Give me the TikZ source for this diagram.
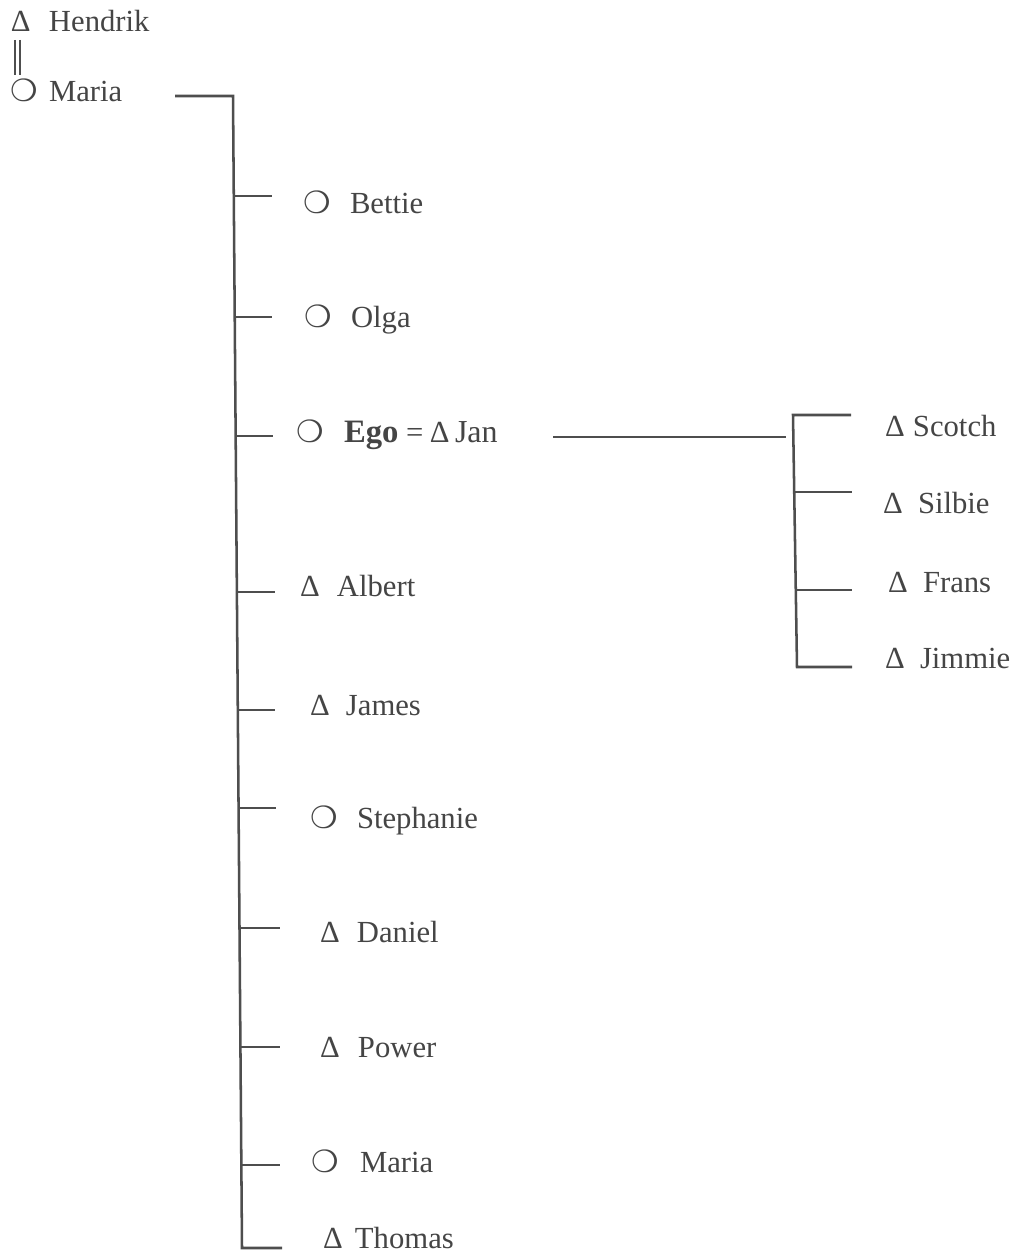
\documentclass[tikz,border=0pt]{standalone}
\usepackage{fontspec}
\setmainfont{Liberation Serif}
\newfontfamily\dejavu{DejaVu Sans}
\definecolor{ink}{HTML}{454545}
\definecolor{linec}{HTML}{4E4E4E}
\newdimen\px \px=0.75pt
\newcommand\fcirc{{\dejavu\fontsize{23}{23}\selectfont ❍}}
\newcommand\ftri{Δ}
\newcommand\person[3]{\makebox[#1\px][l]{#2}#3}
\begin{document}
\begin{tikzpicture}[x=0.75pt,y=-0.75pt,
  lbl/.style={anchor=base west, inner sep=0pt, outer sep=0pt, text=ink,
              font=\fontsize{23}{27}\selectfont},
  ln/.style={draw=linec, line width=1.9pt, line cap=butt, line join=miter}]
\useasboundingbox[fill=white] (0,0) rectangle (1016,1256);

% people
\node[lbl] (hendrik) at (11,32)   {\person{38}{\ftri}{Hendrik}};
\node[lbl] (maria0)  at (11,102)  {\person{38}{\fcirc}{Maria}};
\node[lbl] (bettie)  at (303,213) {\person{47}{\fcirc}{Bettie}};
\node[lbl] (olga)    at (304,327) {\person{47}{\fcirc}{Olga}};
\node[lbl] (ego)     at (296,442) {\person{48}{\fcirc}{\makebox[62\px][l]{\fontsize{24.5}{27}\selectfont\textbf{Ego}}\makebox[24\px][l]{=}\makebox[25\px][l]{\ftri}{\fontsize{24}{27}\selectfont Jan}}};
\node[lbl] (albert)  at (300,596) {\person{37}{\ftri}{Albert}};
\node[lbl] (james)   at (310,715) {\person{36}{\ftri}{James}};
\node[lbl] (steph)   at (310,828) {\person{47}{\fcirc}{Stephanie}};
\node[lbl] (daniel)  at (320,942) {\person{37}{\ftri}{Daniel}};
\node[lbl] (power)   at (320,1057){\person{38}{\ftri}{Power}};
\node[lbl] (maria1)  at (311,1172){\person{49}{\fcirc}{Maria}};
\node[lbl] (thomas)  at (323,1248){\person{32}{\ftri}{Thomas}};
\node[lbl] (scotch)  at (885,436) {\person{28}{\ftri}{Scotch}};
\node[lbl] (silbie)  at (883,513) {\person{35}{\ftri}{Silbie}};
\node[lbl] (frans)   at (888,592) {\person{35}{\ftri}{Frans}};
\node[lbl] (jimmie)  at (885,668) {\person{35}{\ftri}{Jimmie}};

% marriage sign Hendrik = Maria
\coordinate (mA) at (15,40);  \coordinate (mB) at (15,75);
\coordinate (mC) at (20,40);  \coordinate (mD) at (20,75);
\draw[draw=linec, line width=1.1pt] (mA) -- (mB) (mC) -- (mD);

% main sibling line
\coordinate (top0) at (175,96);
\coordinate (st)   at (233,96);
\coordinate (sb)   at (242,1248);
\coordinate (tThomas) at (282,1248);
\draw[ln] (top0) -- (st) -- (sb) -- (tThomas);

\foreach \nm/\sx/\y/\ex in {Bettie/233.8/196/272, Olga/234.7/317/272, Ego/235.7/436/273,
  Albert/236.9/592/275, James/237.8/710/275, Steph/238.6/808/276, Daniel/239.5/928/280,
  Power/240.4/1047/280, Maria/241.4/1165/280}{
  \coordinate (s\nm) at (\sx,\y);
  \coordinate (t\nm) at (\ex,\y);
  \draw[ln] (s\nm) -- (t\nm);
}

% Ego's children
\coordinate (eg1) at (553,437);
\coordinate (eg2) at (786,437);
\draw[ln] (eg1) -- (eg2);
\coordinate (b1) at (851,415);
\coordinate (b2) at (793,415);
\coordinate (b3) at (797,667);
\coordinate (b4) at (852,667);
\draw[ln] (b1) -- (b2) -- (b3) -- (b4);
\coordinate (sSil) at (795,492); \coordinate (tSil) at (852,492);
\coordinate (sFra) at (796,590); \coordinate (tFra) at (852,590);
\draw[ln] (sSil) -- (tSil);
\draw[ln] (sFra) -- (tFra);
\end{tikzpicture}
\end{document}
